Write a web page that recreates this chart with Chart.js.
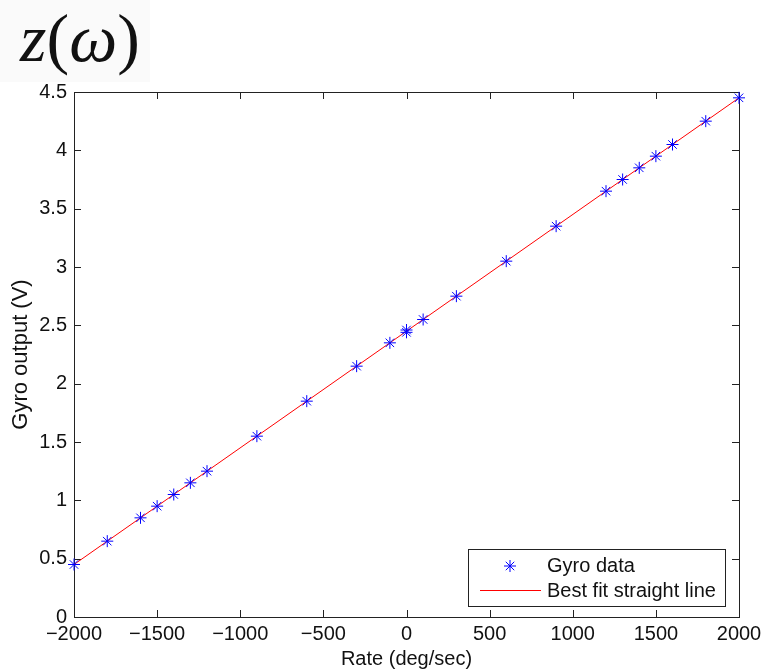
<!DOCTYPE html>
<html>
<head>
<meta charset="utf-8">
<script src="https://cdn.jsdelivr.net/npm/chart.js@4.4.0/dist/chart.umd.min.js"></script>
<style>
  html, body { margin:0; padding:0; background:#fff; }
  #wrap { position:relative; width:763px; height:671px; }
  #title {
    position:absolute; left:0; top:0; width:150px; height:82px; background:#fafafa;
    font: 68px "Liberation Serif", serif; color:#111; line-height:76px; padding-left:20px; box-sizing:border-box;
  }
  #title i { font-style:italic; }
</style>
</head>
<body>
<div id="wrap">
  <canvas id="c" width="763" height="671"></canvas>
  <div id="title"><i>z</i>(<i>ω</i>)</div>
</div>
<script>
// gyro calibration data
const rateDeg  = [-2000, -1800, -1600, -1500, -1400, -1300, -1200, -900, -600, -300, -100, 0, 0, 100, 300, 600, 900, 1200, 1300, 1400, 1500, 1600, 1800, 2000];
const gyroVolt = [0.45, 0.65, 0.85, 0.95, 1.05, 1.15, 1.25, 1.55, 1.85, 2.15, 2.35, 2.44, 2.46, 2.55, 2.75, 3.05, 3.35, 3.65, 3.75, 3.85, 3.95, 4.05, 4.25, 4.45];
// best fit line endpoints
const fitX = [-2000, 2000];
const fitY = [0.45, 4.45];
const xTicks = [-2000, -1500, -1000, -500, 0, 500, 1000, 1500, 2000];
const yTicks = [0, 0.5, 1, 1.5, 2, 2.5, 3, 3.5, 4, 4.5];

const axisCol = '#222';
const font = f => ({ family: 'Liberation Sans, Arial, sans-serif', size: f });
const fmt = v => (v < 0 ? '\u2212' + Math.abs(v) : String(v));

// MATLAB-ish box with inward ticks on all four sides
const boxPlugin = {
  id: 'box',
  beforeDatasetsDraw(chart) {
    const { ctx, chartArea: a, scales: { x, y } } = chart;
    ctx.save();
    ctx.strokeStyle = axisCol; ctx.lineWidth = 1;
    ctx.strokeRect(a.left + 0.5, a.top + 0.5, a.right - a.left, a.bottom - a.top);
    ctx.beginPath();
    xTicks.forEach(v => {
      const px = Math.round(x.getPixelForValue(v)) + 0.5;
      ctx.moveTo(px, a.bottom); ctx.lineTo(px, a.bottom - 7);
      ctx.moveTo(px, a.top); ctx.lineTo(px, a.top + 7);
    });
    yTicks.forEach(v => {
      const py = Math.round(y.getPixelForValue(v)) + 0.5;
      ctx.moveTo(a.left, py); ctx.lineTo(a.left + 7, py);
      ctx.moveTo(a.right, py); ctx.lineTo(a.right - 7, py);
    });
    ctx.stroke();
    ctx.restore();
  },
  afterDraw(chart) {
    // legend box in lower right
    const { ctx } = chart;
    const L = 468, T = 549, W = 257, H = 57;
    ctx.save();
    ctx.fillStyle = '#fff'; ctx.fillRect(L, T, W, H);
    ctx.strokeStyle = axisCol; ctx.lineWidth = 1;
    ctx.strokeRect(L + 0.5, T + 0.5, W, H);
    // asterisk
    const cx = 510, cy = 566, r = 6;
    ctx.strokeStyle = '#0000ff';
    ctx.beginPath();
    for (let k = 0; k < 4; k++) {
      const ang = k * Math.PI / 4;
      ctx.moveTo(cx - r * Math.cos(ang), cy - r * Math.sin(ang));
      ctx.lineTo(cx + r * Math.cos(ang), cy + r * Math.sin(ang));
    }
    ctx.stroke();
    ctx.strokeStyle = '#ff0000';
    ctx.beginPath(); ctx.moveTo(480, 590.5); ctx.lineTo(541, 590.5); ctx.stroke();
    ctx.fillStyle = '#111';
    ctx.font = '20px "Liberation Sans", Arial, sans-serif';
    ctx.textBaseline = 'middle';
    ctx.fillText('Gyro data', 547, 566);
    ctx.fillText('Best fit straight line', 547, 591);
    ctx.restore();
  }
};

new Chart(document.getElementById('c'), {
  type: 'scatter',
  data: {
    datasets: [
      {
        label: 'Gyro data',
        data: rateDeg.map((r, i) => ({ x: r, y: gyroVolt[i] })),
        pointStyle: 'star', radius: 6, borderColor: '#0000ff', backgroundColor: '#0000ff',
        borderWidth: 1, clip: false, order: 1
      },
      {
        label: 'Best fit straight line',
        type: 'line',
        data: fitX.map((r, i) => ({ x: r, y: fitY[i] })),
        borderColor: '#ff0000', borderWidth: 1, pointRadius: 0, fill: false, order: 2
      }
    ]
  },
  options: {
    responsive: false, animation: false, devicePixelRatio: 1,
    layout: { padding: { top: 92, right: 24, left: 0, bottom: 0 } },
    plugins: { legend: { display: false }, tooltip: { enabled: false } },
    scales: {
      x: {
        type: 'linear', min: -2000, max: 2000,
        afterBuildTicks: s => { s.ticks = xTicks.map(v => ({ value: v })); },
        afterFit: s => { s.height = 54; s.paddingLeft = 0; s.paddingRight = 0; },
        grid: { display: false, drawTicks: false },
        border: { display: false },
        ticks: { callback: v => fmt(v), color: '#111', font: font(20), padding: 5, maxRotation: 0 },
        title: { display: true, text: 'Rate (deg/sec)', color: '#111', font: font(20), padding: { top: 0, bottom: 0 } }
      },
      y: {
        min: 0, max: 4.5,
        afterBuildTicks: s => { s.ticks = yTicks.map(v => ({ value: v })); },
        afterFit: s => { s.width = 74; s.paddingTop = 0; s.paddingBottom = 0; },
        grid: { display: false, drawTicks: false },
        border: { display: false },
        ticks: { callback: v => String(v), color: '#111', font: font(20), padding: 7 },
        title: { display: true, text: 'Gyro output (V)', color: '#111', font: font(22), padding: { top: 8, bottom: 0 } }
      }
    }
  },
  plugins: [boxPlugin]
});
</script>
</body>
</html>
